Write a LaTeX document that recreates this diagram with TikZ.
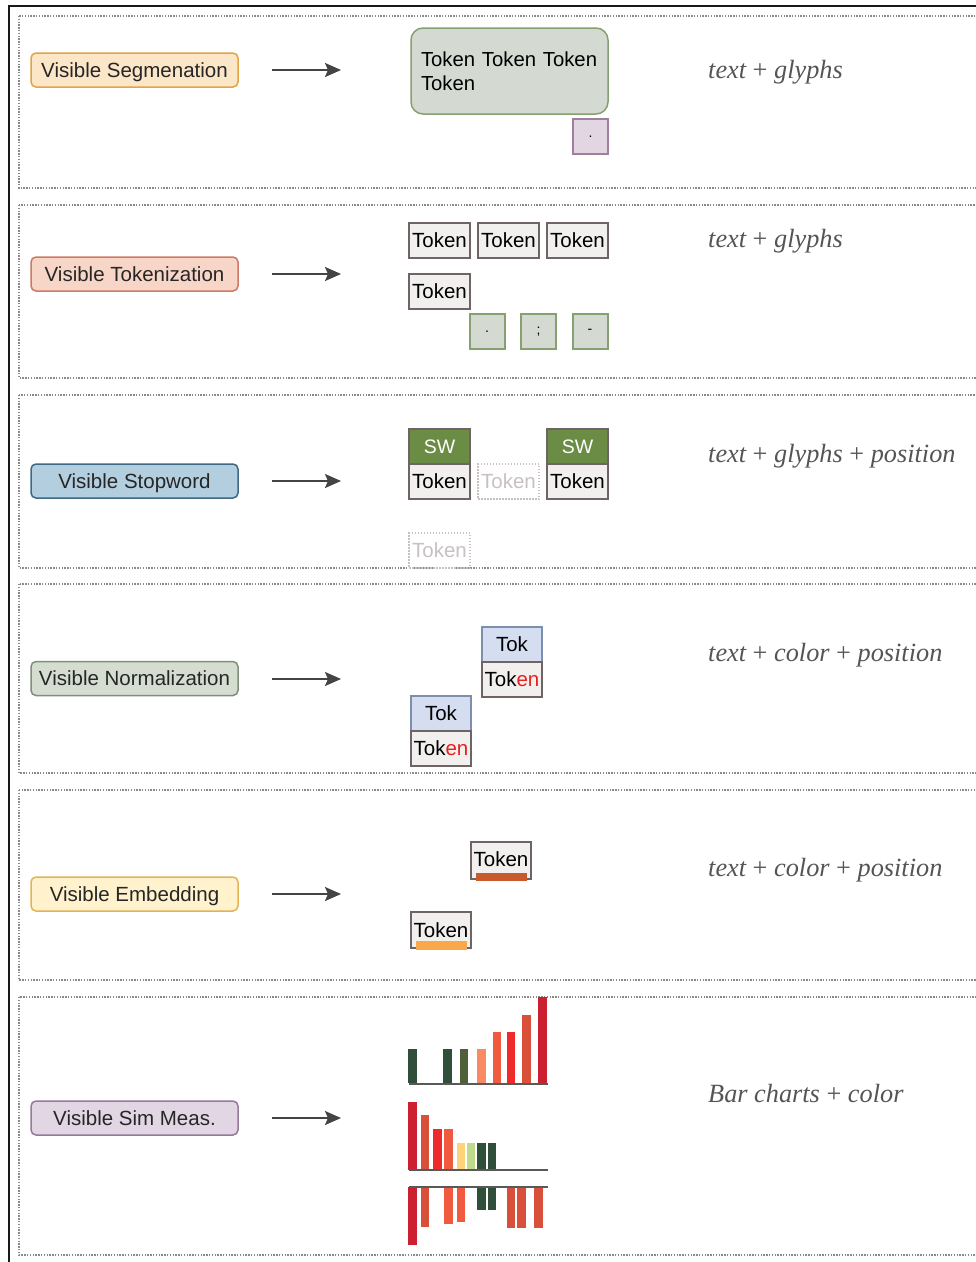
\documentclass[tikz,border=0pt]{standalone}
\usepackage{fontspec}
\setmainfont{Liberation Sans}
\newfontfamily\serifit{Liberation Serif}
\usetikzlibrary{arrows.meta}
\definecolor{segfill}{HTML}{FCE6C8}\definecolor{segdraw}{HTML}{E2A445}
\definecolor{tokfillL}{HTML}{F7D6C8}\definecolor{tokdrawL}{HTML}{CC7A66}
\definecolor{swfillL}{HTML}{B2CEDF}\definecolor{swdrawL}{HTML}{3E6A87}
\definecolor{normfillL}{HTML}{D5DDD0}\definecolor{normdrawL}{HTML}{7F8F78}
\definecolor{embfillL}{HTML}{FFF2CC}\definecolor{embdrawL}{HTML}{E3B455}
\definecolor{simfillL}{HTML}{E2D6E4}\definecolor{simdrawL}{HTML}{957A9A}
\definecolor{boxfill}{HTML}{F2F0EF}\definecolor{boxdraw}{HTML}{6E6465}
\definecolor{grfill}{HTML}{D4DAD2}\definecolor{grdraw}{HTML}{86A070}
\definecolor{pkfill}{HTML}{E2D6E2}\definecolor{pkdraw}{HTML}{A27E9E}
\definecolor{swgreen}{HTML}{6A8C45}
\definecolor{ghost}{HTML}{C9C1C1}
\definecolor{tokblue}{HTML}{D4DEF0}\definecolor{tokbluedraw}{HTML}{7D8FB0}
\definecolor{redtxt}{HTML}{E82020}
\definecolor{embA}{HTML}{C95A2C}\definecolor{embB}{HTML}{F8A848}
\definecolor{dgreen}{HTML}{2F4F3A}\definecolor{olive}{HTML}{4F5F3A}
\definecolor{salmon}{HTML}{F98A64}\definecolor{orred}{HTML}{F05A3E}
\definecolor{brred}{HTML}{EE2A2A}\definecolor{rust}{HTML}{D9503A}
\definecolor{crim}{HTML}{CC2030}\definecolor{yel}{HTML}{FFD37A}
\definecolor{lgreen}{HTML}{BEDA8A}
\definecolor{arrowc}{HTML}{444444}
\definecolor{rtext}{HTML}{555555}
\definecolor{dotc}{HTML}{8A8A8A}
\tikzset{
  caps/.style={text height=14.6pt, text depth=0pt},
  lbl/.style={draw, rounded corners=5pt, line width=1.5pt, minimum width=207pt, minimum height=34pt, inner sep=0pt, caps, text=black!85, font=\fontsize{20.5}{24}\selectfont},
  tok/.style={draw=boxdraw, fill=boxfill, line width=1.5pt, minimum width=61pt, minimum height=35pt, inner sep=0pt, caps, font=\fontsize{20.5}{23}\selectfont},
  ghosttok/.style={draw=ghost, dash pattern=on 1.5pt off 1.5pt, line width=1.2pt, minimum width=61pt, minimum height=35pt, inner sep=0pt, caps, text=ghost, font=\fontsize{20.5}{23}\selectfont},
  punct/.style={draw=grdraw, fill=grfill, line width=2pt, minimum width=35pt, minimum height=35pt, inner sep=0pt, font=\fontsize{14}{16}\selectfont},
  swbox/.style={draw=boxdraw, fill=swgreen, line width=1.5pt, minimum width=61pt, minimum height=35pt, inner sep=0pt, text height=14pt, text depth=0pt, text=white, font=\fontsize{19.5}{23}\selectfont},
  tokb/.style={draw=tokbluedraw, fill=tokblue, line width=1.5pt, minimum width=60pt, minimum height=35pt, inner sep=0pt, caps, font=\fontsize{20.5}{23}\selectfont},
  conn/.style={draw=arrowc, line width=2pt, -{Stealth[length=16pt,width=14pt,inset=3pt]}},
  rlabel/.style={anchor=west, inner sep=0pt, text=rtext, font=\serifit\fontsize{26.3}{30}\selectfont\itshape},
  section/.style={draw=dotc, line width=1.6pt, dash pattern=on 1.4pt off 1.4pt},
  baseln/.style={draw=black!65, line width=2pt}
}
\begin{document}
\begin{tikzpicture}[x=1pt,y=-1pt]
\useasboundingbox (0,0) rectangle (976,1262);
\clip (0,0) rectangle (976,1262);
\fill[white] (0,0) rectangle (976,1262);
% outer frame
\draw[line width=2.2pt, black!90] (9,6) rectangle (1000,1290);
% sections
\draw[section] (19,16) rectangle (1000,188);
\draw[section] (19,205) rectangle (1000,378);
\draw[section] (19,395) rectangle (1000,568);
\draw[section] (19,584) rectangle (1000,773);
\draw[section] (19,790) rectangle (1000,980);
\draw[section] (19,997) rectangle (1000,1255);

% ---------- section 1
\node[lbl, fill=segfill, draw=segdraw] (l1) at (134.5,70) {Visible Segmenation};
\coordinate (a1s) at (272,70); \coordinate (a1e) at (341,70);
\draw[conn] (a1s) -- (a1e);
\node[draw=grdraw, fill=grfill, line width=1.5pt, rounded corners=12pt, minimum width=197pt, minimum height=86pt, inner xsep=10pt, inner ysep=0pt, text width=177pt, align=left, font=\fontsize{20.3}{24}\selectfont] (seg) at (509.5,71) {Token Token Token\\Token};
\node[draw=pkdraw, fill=pkfill, line width=1.5pt, minimum width=35pt, minimum height=35pt, inner sep=0pt, font=\fontsize{14}{16}\selectfont] (dot1) at (590.5,136.5) {.};
\node[rlabel] (r1) at (708,72) {text \upshape+\itshape\ glyphs};

% ---------- section 2
\node[lbl, fill=tokfillL, draw=tokdrawL] (l2) at (134.5,274) {Visible Tokenization};
\coordinate (a2s) at (272,274); \coordinate (a2e) at (341,274);
\draw[conn] (a2s) -- (a2e);
\node[tok] (t21) at (439.5,240.5) {Token};
\node[tok] (t22) at (508.5,240.5) {Token};
\node[tok] (t23) at (577.5,240.5) {Token};
\node[tok] (t24) at (439.5,291.5) {Token};
\node[punct] (p21) at (487,331.5) {.};
\node[punct] (p22) at (538.5,331.5) {;};
\node[punct] (p23) at (590,331.5) {-};
\node[rlabel] (r2) at (708,241) {text \upshape+\itshape\ glyphs};

% ---------- section 3
\node[lbl, fill=swfillL, draw=swdrawL] (l3) at (134.5,481) {Visible Stopword};
\coordinate (a3s) at (272,481); \coordinate (a3e) at (341,481);
\draw[conn] (a3s) -- (a3e);
\node[swbox] (sw1) at (439.5,446.5) {SW};
\node[tok] (t31) at (439.5,481.5) {Token};
\node[swbox] (sw2) at (577.5,446.5) {SW};
\node[tok] (t33) at (577.5,481.5) {Token};
\node[ghosttok] (g31) at (508.5,481.5) {Token};
\node[ghosttok] (g32) at (439.5,550.5) {Token};
\node[rlabel] (r3) at (708,456) {text \upshape+\itshape\ glyphs \upshape+\itshape\ position};

% ---------- section 4
\node[lbl, fill=normfillL, draw=normdrawL] (l4) at (134.5,678.5) {Visible Normalization};
\coordinate (a4s) at (272,679); \coordinate (a4e) at (341,679);
\draw[conn] (a4s) -- (a4e);
\node[tokb] (tk41) at (512,644.5) {Tok};
\node[tok, minimum width=60pt] (t41) at (512,679.5) {Tok\textcolor{redtxt}{en}};
\node[tokb] (tk42) at (441,713.5) {Tok};
\node[tok, minimum width=60pt] (t42) at (441,748.5) {Tok\textcolor{redtxt}{en}};
\node[rlabel] (r4) at (708,655) {text \upshape+\itshape\ color \upshape+\itshape\ position};

% ---------- section 5
\node[lbl, fill=embfillL, draw=embdrawL] (l5) at (134.5,894) {Visible Embedding};
\coordinate (a5s) at (272,894); \coordinate (a5e) at (341,894);
\draw[conn] (a5s) -- (a5e);
\node[draw=boxdraw, fill=boxfill, line width=1.5pt, minimum width=60pt, minimum height=37pt, inner sep=0pt] (e1) at (501,860.5) {};
\node[inner sep=0pt, caps, font=\fontsize{20.5}{23}\selectfont] (e1t) at (501,859) {Token};
\fill[embA] (476,873) rectangle (527,881);
\node[draw=boxdraw, fill=boxfill, line width=1.5pt, minimum width=60pt, minimum height=36pt, inner sep=0pt] (e2) at (441,930) {};
\node[inner sep=0pt, caps, font=\fontsize{20.5}{23}\selectfont] (e2t) at (441,930) {Token};
\fill[embB] (416,941) rectangle (467,950);
\node[rlabel] (r5) at (708,870) {text \upshape+\itshape\ color \upshape+\itshape\ position};

% ---------- section 6
\node[lbl, fill=simfillL, draw=simdrawL] (l6) at (134.5,1118) {Visible Sim Meas.};
\coordinate (a6s) at (272,1118); \coordinate (a6e) at (341,1118);
\draw[conn] (a6s) -- (a6e);
% chart 1
\fill[dgreen] (408,1049) rectangle (417,1083);
\fill[dgreen] (443,1049) rectangle (452,1083);
\fill[olive] (460,1049) rectangle (468,1083);
\fill[salmon] (477,1049) rectangle (486,1083);
\fill[orred] (493,1032) rectangle (501,1083);
\fill[brred] (507,1032) rectangle (515,1083);
\fill[rust] (522,1015) rectangle (531,1083);
\fill[crim] (538,997) rectangle (547,1083);
\draw[baseln] (409,1084) -- (548,1084);
% chart 2
\fill[crim] (408,1102) rectangle (417,1170);
\fill[rust] (421,1115) rectangle (429,1170);
\fill[brred] (433,1129) rectangle (442,1170);
\fill[orred] (444,1129) rectangle (453,1170);
\fill[yel] (457,1143) rectangle (465,1170);
\fill[lgreen] (467,1143) rectangle (475,1170);
\fill[dgreen] (477,1143) rectangle (486,1170);
\fill[dgreen] (488,1143) rectangle (496,1170);
\draw[baseln] (409,1170) -- (548,1170);
% chart 3
\fill[crim] (408,1187) rectangle (417,1245);
\fill[rust] (421,1187) rectangle (429,1227);
\fill[orred] (444,1187) rectangle (453,1224);
\fill[orred] (457,1187) rectangle (465,1222);
\fill[dgreen] (477,1187) rectangle (486,1210);
\fill[dgreen] (488,1187) rectangle (496,1210);
\fill[rust] (507,1187) rectangle (515,1228);
\fill[rust] (517,1187) rectangle (526,1228);
\fill[rust] (534,1187) rectangle (543,1228);
\draw[baseln] (409,1187) -- (548,1187);
\node[rlabel] (r6) at (708,1093) {Bar charts \upshape+\itshape\ color};
\end{tikzpicture}
\end{document}
